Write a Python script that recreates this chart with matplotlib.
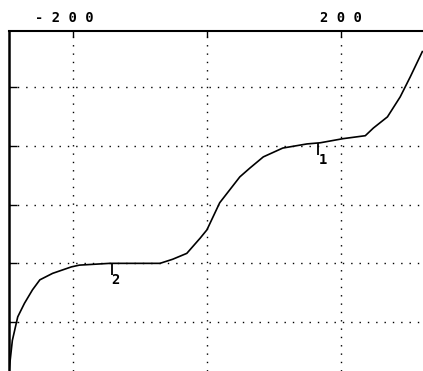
import numpy as np
import matplotlib.pyplot as plt
import matplotlib.transforms as mtransforms

# curve (x in axis units, y in grid units)
curve_x = [-295, -290, -282, -272, -260, -249, -230, -202, -190, -145, -70,
           -51, -30, -10, 0, 19, 49, 64, 84, 113, 149, 169, 203, 236,
           248, 269, 288, 303, 321]
curve_y = [-0.83, -0.31, 0.09, 0.32, 0.55, 0.72, 0.83, 0.94, 0.97, 1.00, 1.00,
           1.07, 1.17, 1.43, 1.57, 2.03, 2.47, 2.62, 2.81, 2.96, 3.03, 3.05,
           3.12, 3.17, 3.30, 3.49, 3.83, 4.17, 4.60]

# numbered markers hanging off the curve
marker_x = [166, -142]
marker_labels = ['1', '2']

x_ticks = [-200, 0, 200]
x_ticklabels = ['- 2 0 0', '', '2 0 0']
y_grid = [0, 1, 2, 3, 4]

fig = plt.figure(figsize=(4.23, 3.71), dpi=100)
ax = fig.add_axes([9 / 423, 0, 414 / 423, 340 / 371])

ax.plot(curve_x, curve_y, color='black', lw=1.2)

for mx, lab in zip(marker_x, marker_labels):
    my = np.interp(mx, curve_x, curve_y)
    ax.vlines(mx, my - 0.2, my, color='black', lw=1.3)
    ax.text(mx, my - 0.17, lab, ha='left', va='top', fontsize=10,
            family='DejaVu Sans Mono', fontweight='bold')

ax.set_xlim(-295, 322)
ax.set_ylim(-0.83, 4.95)

ax.set_xticks(x_ticks)
ax.set_xticklabels(x_ticklabels, family='DejaVu Sans Mono', fontweight='bold',
                   fontsize=10)
ax.set_yticks(y_grid)
ax.set_yticklabels([])
ax.xaxis.tick_top()
ax.tick_params(axis='x', direction='in', length=4, pad=4, width=1)
ax.tick_params(axis='y', direction='in', length=6, width=1)

# the -200 label sits a little left of its tick
shift = mtransforms.ScaledTranslation(-8 / 100, 0, fig.dpi_scale_trans)
lbl = ax.xaxis.get_majorticklabels()[0]
lbl.set_transform(lbl.get_transform() + shift)

ax.grid(True, color='black', linestyle=(0, (1, 5)), lw=1)

for side in ['right', 'bottom']:
    ax.spines[side].set_visible(False)
ax.spines['top'].set_linewidth(1.5)
ax.spines['left'].set_linewidth(1.8)

fig.savefig('out.png', dpi=100)
